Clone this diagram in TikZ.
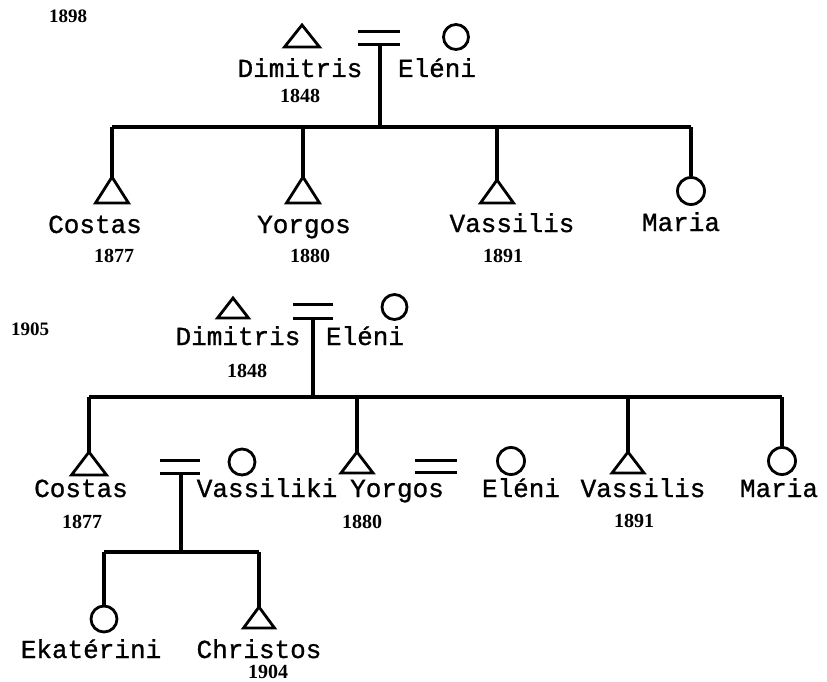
\documentclass[tikz,border=0pt]{standalone}
\usepackage{fontspec}
\newfontfamily\twfont{Liberation Mono}[FakeBold=1]
\newfontfamily\yrfont{Liberation Serif}
\newcommand\maletri[5]{% name, x, apex y, half width, height
  \coordinate (#1) at (#2,#3);
  \draw[sym] (#1) -- ++(-#4,#5) -- ++(2*#4,0) -- cycle;}
\tikzset{
  sym/.style={line width=2.8pt, line join=miter},
  fem/.style={circle, draw, line width=2.8pt, inner sep=0pt, minimum size=#1},
  fem/.default=26pt,
  link/.style={line width=3.2pt},
  wed/.style={line width=3pt},
  pname/.style={font=\twfont\fontsize{26}{26}\selectfont, inner sep=0pt, anchor=base},
  yearlbl/.style={font=\yrfont\bfseries\fontsize{20}{20}\selectfont, inner sep=0pt, anchor=base},
  datelbl/.style={font=\yrfont\bfseries\fontsize{19}{19}\selectfont, inner sep=0pt, anchor=base},
}
\begin{document}
\begin{tikzpicture}[x=1pt,y=-1pt]
\useasboundingbox (0,0) rectangle (827,682);

% ===================== 1898 =====================
\node[datelbl] (d1898) at (68,23) {1898};
\maletri{dim1}{302}{25}{17.5}{22}
\node[fem=25pt] (ele1) at (456,37) {};
\coordinate (w1a) at (358,32); \coordinate (w1b) at (400,32);
\coordinate (w1c) at (358,45); \coordinate (w1d) at (400,45);
\draw[wed] (w1a) -- (w1b);
\draw[wed] (w1c) -- (w1d);
\coordinate (w1m) at (380,45);
\coordinate (bus1) at (380,127);
\draw[link] (w1m) -- (bus1);
\node[pname] (tdim1) at (300,77) {Dimitris};
\node[pname] (tele1) at (437,77) {Eléni};
\node[yearlbl] (ydim1) at (300,103) {1848};

\coordinate (b1L) at (112,127); \coordinate (b1R) at (691,127);
\draw[link] (b1L) -- (b1R);
\maletri{cos1}{112}{177}{16.5}{26}
\maletri{yor1}{303}{177}{16.5}{26}
\maletri{vas1}{497}{180}{16.5}{23}
\node[fem=27pt] (mar1) at (691,191) {};
\coordinate (b1y) at (303,127); \coordinate (b1v) at (497,127);
\draw[link] (b1L) -- (cos1);
\draw[link] (b1y) -- (yor1);
\draw[link] (b1v) -- (vas1);
\draw[link] (b1R) -- (mar1.north);

\node[pname] (tcos1) at (95,233) {Costas};
\node[pname] (tyor1) at (304,233) {Yorgos};
\node[pname] (tvas1) at (512,232) {Vassilis};
\node[pname] (tmar1) at (681,231) {Maria};
\node[yearlbl] (ycos1) at (114,262) {1877};
\node[yearlbl] (yyor1) at (310,262) {1880};
\node[yearlbl] (yvas1) at (503,262) {1891};

% ===================== 1905 =====================
\node[datelbl] (d1905) at (30,335) {1905};
\maletri{dim2}{233}{298}{15.5}{20}
\node[fem=25pt] (ele2) at (394.5,307) {};
\coordinate (w2a) at (293,304); \coordinate (w2b) at (333,304);
\coordinate (w2c) at (293,318); \coordinate (w2d) at (333,318);
\draw[wed] (w2a) -- (w2b);
\draw[wed] (w2c) -- (w2d);
\coordinate (w2m) at (313,318);
\coordinate (bus2) at (313,397);
\draw[link] (w2m) -- (bus2);
\node[pname] (tdim2) at (238,345) {Dimitris};
\node[pname] (tele2) at (365,345) {Eléni};
\node[yearlbl] (ydim2) at (247,377) {1848};

\coordinate (b2L) at (89,397); \coordinate (b2R) at (782,397);
\draw[link] (b2L) -- (b2R);
\maletri{cos2}{89}{452}{17.5}{23}
\maletri{yor2}{357}{452}{16}{21}
\maletri{vas2}{628}{452}{16}{21}
\node[fem=27pt] (mar2) at (782,461) {};
\coordinate (b2y) at (357,397); \coordinate (b2v) at (628,397);
\draw[link] (b2L) -- (cos2);
\draw[link] (b2y) -- (yor2);
\draw[link] (b2v) -- (vas2);
\draw[link] (b2R) -- (mar2.north);

% Costas = Vassiliki
\coordinate (w3a) at (160,460); \coordinate (w3b) at (200,460);
\coordinate (w3c) at (160,473); \coordinate (w3d) at (200,473);
\draw[wed] (w3a) -- (w3b);
\draw[wed] (w3c) -- (w3d);
\node[fem=26pt] (vsk) at (242,462) {};
% Yorgos = Eleni
\coordinate (w4a) at (415,460); \coordinate (w4b) at (457,460);
\coordinate (w4c) at (415,472); \coordinate (w4d) at (457,472);
\draw[wed] (w4a) -- (w4b);
\draw[wed] (w4c) -- (w4d);
\node[fem=27pt] (ele3) at (511,461) {};

\node[pname] (tcos2) at (81,497) {Costas};
\node[pname] (tvsk) at (267,497) {Vassiliki};
\node[pname] (tyor2) at (397,497) {Yorgos};
\node[pname] (tele3) at (521,497) {Eléni};
\node[pname] (tvas2) at (643,497) {Vassilis};
\node[pname] (tmar2) at (779,497) {Maria};
\node[yearlbl] (ycos2) at (82,528) {1877};
\node[yearlbl] (yyor2) at (362,528) {1880};
\node[yearlbl] (yvas2) at (634,527) {1891};

% children of Costas and Vassiliki
\coordinate (w3m) at (181,473);
\coordinate (bus3) at (181,552);
\draw[link] (w3m) -- (bus3);
\coordinate (b3L) at (104,552); \coordinate (b3R) at (259,552);
\draw[link] (b3L) -- (b3R);
\node[fem=26pt] (eka) at (104,619) {};
\maletri{chr}{259}{607}{15.5}{21}
\draw[link] (b3L) -- (eka.north);
\draw[link] (b3R) -- (chr);
\node[pname] (teka) at (91,658) {Ekatérini};
\node[pname] (tchr) at (259,658) {Christos};
\node[yearlbl] (ychr) at (268,678) {1904};
\end{tikzpicture}
\end{document}
